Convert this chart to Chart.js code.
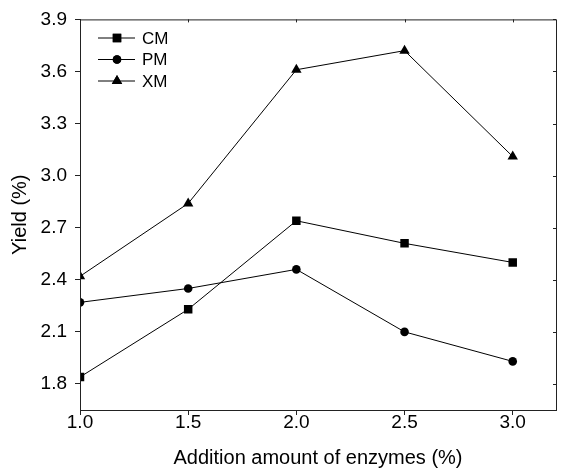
<!DOCTYPE html>
<html>
<head>
<meta charset="utf-8">
<script src="https://cdn.jsdelivr.net/npm/chart.js@4"></script>
<style>
  html, body { margin: 0; padding: 0; background: #fff; }
  #wrap { width: 569px; height: 470px; }
</style>
</head>
<body>
<div id="wrap"><canvas id="myChart" width="569" height="470"></canvas></div>
<script>
'use strict';

var enzymes = [1.0, 1.5, 2.0, 2.5, 3.0];
var cmYield = [1.84, 2.23, 2.74, 2.61, 2.50];
var pmYield = [2.27, 2.35, 2.46, 2.10, 1.93];
var xmYield = [2.42, 2.84, 3.61, 3.72, 3.11];
var xTicks = [1.0, 1.5, 2.0, 2.5, 3.0];
var yTicks = [1.8, 2.1, 2.4, 2.7, 3.0, 3.3, 3.6, 3.9];

var seriesNames = ['CM', 'PM', 'XM'];
var seriesShapes = ['rect', 'circle', 'triangle'];
var seriesSizes = [6, 4.3, 6];

function toPoints(ys) {
  return ys.map(function(v, i) { return {x: enzymes[i], y: v}; });
}

var allYields = [cmYield, pmYield, xmYield];
var datasets = allYields.map(function(ys, i) {
  return {
    label: seriesNames[i],
    data: toPoints(ys),
    borderColor: '#000',
    backgroundColor: '#000',
    borderWidth: 1,
    pointStyle: seriesShapes[i],
    pointRadius: seriesSizes[i],
    pointBorderWidth: 0,
    tension: 0
  };
});

// frame, inner ticks on top/right and the legend box in the corner
var framePlugin = {
  id: 'frame',
  afterDraw: function(chart) {
    var c = chart.ctx, a = chart.chartArea;
    var xs = chart.scales.x, ys = chart.scales.y;
    c.save();
    c.strokeStyle = '#222';
    c.lineWidth = 1;
    c.strokeRect(a.left + 0.5, a.top + 0.5, a.right - a.left, a.bottom - a.top);
    c.beginPath();
    xTicks.forEach(function(v) {
      var px = Math.round(xs.getPixelForValue(v)) + 0.5;
      c.moveTo(px, a.top); c.lineTo(px, a.top + 3);
    });
    yTicks.forEach(function(v) {
      var py = Math.round(ys.getPixelForValue(v)) + 0.5;
      c.moveTo(a.right, py); c.lineTo(a.right - 3, py);
    });
    c.stroke();

    c.font = '17px "Liberation Sans", Arial, sans-serif';
    c.textBaseline = 'middle';
    c.fillStyle = '#000';
    chart.data.datasets.forEach(function(ds, i) {
      var ly = 38 + i * 21.5;
      c.beginPath();
      c.strokeStyle = '#000';
      c.moveTo(98, ly); c.lineTo(135, ly);
      c.stroke();
      Chart.helpers.drawPoint(c, {pointStyle: ds.pointStyle, radius: ds.pointRadius, borderWidth: 0}, 117, ly);
      c.fill();
      c.fillText(ds.label, 142, ly + 1);
    });
    c.restore();
  }
};

var ctx = document.getElementById('myChart');
var tickFont = {family: '"Liberation Sans", Arial, sans-serif', size: 19};
var titleFont = {family: '"Liberation Sans", Arial, sans-serif', size: 20};

var myLineChart = new Chart(ctx, {
  type: 'line',
  data: {datasets: datasets},
  options: {
    responsive: false,
    animation: false,
    layout: {padding: {left: 0, top: 18, right: 13, bottom: 0}},
    plugins: {legend: {display: false}, tooltip: {enabled: false}},
    scales: {
      x: {
        type: 'linear',
        min: 1.0,
        max: 3.2,
        afterBuildTicks: function(scale) {
          scale.ticks = xTicks.map(function(v) { return {value: v}; });
        },
        afterFit: function(scale) { scale.height = 60; },
        grid: {drawOnChartArea: false, tickLength: 5, color: '#222'},
        border: {color: '#222'},
        ticks: {
          color: '#000',
          font: tickFont,
          padding: -4,
          maxRotation: 0,
          callback: function(v) { return Number(v).toFixed(1); }
        },
        title: {
          display: true,
          text: 'Addition amount of enzymes (%)',
          color: '#000',
          font: titleFont,
          padding: {top: 0, bottom: 0}
        }
      },
      y: {
        min: 1.65,
        max: 3.9,
        afterBuildTicks: function(scale) {
          scale.ticks = yTicks.map(function(v) { return {value: v}; });
        },
        afterFit: function(scale) { scale.width = 80; },
        grid: {drawOnChartArea: false, tickLength: 5, color: '#222'},
        border: {color: '#222'},
        ticks: {
          color: '#000',
          font: tickFont,
          padding: 8,
          callback: function(v) { return Number(v).toFixed(1); }
        },
        title: {
          display: true,
          text: 'Yield (%)',
          color: '#000',
          font: titleFont,
          padding: {top: 8, bottom: 0}
        }
      }
    }
  },
  plugins: [framePlugin]
});
</script>
</body>
</html>
